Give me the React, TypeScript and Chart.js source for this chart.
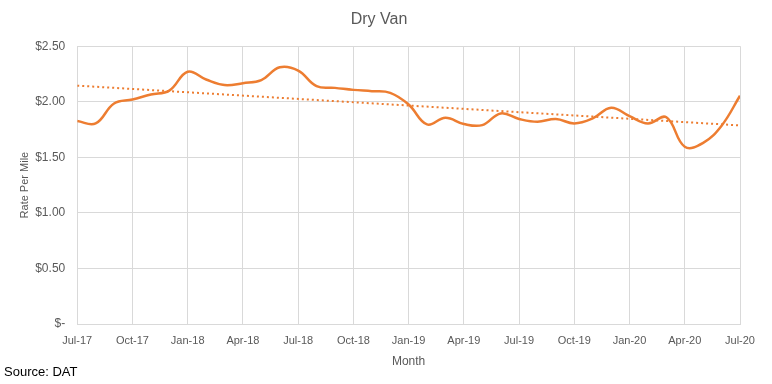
import React, { useEffect, useRef } from "react";
import { Chart, registerables } from "chart.js";

Chart.register(...registerables);

const months = [
  "Jul-17","Aug-17","Sep-17","Oct-17","Nov-17","Dec-17",
  "Jan-18","Feb-18","Mar-18","Apr-18","May-18","Jun-18",
  "Jul-18","Aug-18","Sep-18","Oct-18","Nov-18","Dec-18",
  "Jan-19","Feb-19","Mar-19","Apr-19","May-19","Jun-19",
  "Jul-19","Aug-19","Sep-19","Oct-19","Nov-19","Dec-19",
  "Jan-20","Feb-20","Mar-20","Apr-20","May-20","Jun-20","Jul-20",
];

const rates = [
  1.826, 1.805, 1.985, 2.02, 2.065, 2.10,
  2.27, 2.20, 2.15, 2.167, 2.195, 2.31,
  2.28, 2.14, 2.125, 2.107, 2.095, 2.08,
  1.975, 1.796, 1.856, 1.80, 1.79, 1.895,
  1.845, 1.82, 1.845, 1.805, 1.85, 1.946,
  1.87, 1.805, 1.86, 1.595, 1.63, 1.785, 2.054,
];

const yTicks = [0, 0.5, 1.0, 1.5, 2.0, 2.5];

const FONT = "'Liberation Sans', Arial, sans-serif";
const GREY = "#595959";
const ORANGE = "#ED7D31";

function trend(values: number[]) {
  const n = values.length;
  let sx = 0, sy = 0, sxy = 0, sxx = 0;
  values.forEach((v, i) => { sx += i; sy += v; sxy += i * v; sxx += i * i; });
  const b = (n * sxy - sx * sy) / (n * sxx - sx * sx);
  const a = (sy - b * sx) / n;
  return [{ x: 0, y: a }, { x: n - 1, y: a + b * (n - 1) }];
}

export default function App() {
  const ref = useRef<HTMLCanvasElement>(null);
  useEffect(() => {
    document.body.style.margin = "0";
    const chart = new Chart(ref.current!, {
      type: "line",
      data: {
        datasets: [
          {
            label: "Dry Van",
            data: rates.map((v, i) => ({ x: i, y: v })),
            borderColor: ORANGE,
            borderWidth: 2.5,
            pointRadius: 0,
            tension: 0.4,
            fill: false,
          },
          {
            label: "Trend",
            data: trend(rates),
            borderColor: ORANGE,
            borderWidth: 2,
            borderDash: [2, 3],
            pointRadius: 0,
            tension: 0,
            fill: false,
          },
        ],
      },
      options: {
        animation: false,
        responsive: false,
        layout: { padding: { left: 18, right: 32, top: 6, bottom: 20 } },
        plugins: {
          legend: { display: false },
          tooltip: { enabled: false },
          title: {
            display: true,
            text: "Dry Van",
            color: GREY,
            font: { family: FONT, size: 16, weight: "normal" },
            padding: { top: 4, bottom: 17 },
          },
        },
        scales: {
          x: {
            type: "linear",
            min: 0,
            max: months.length - 1,
            ticks: {
              stepSize: 3,
              autoSkip: false,
              maxRotation: 0,
              color: GREY,
              font: { family: FONT, size: 11 },
              padding: 10,
              callback: (v: any) => months[Number(v)] ?? "",
            },
            grid: { color: "#d9d9d9", drawTicks: false },
            border: { color: "#d9d9d9" },
            title: {
              display: true,
              text: "Month",
              color: GREY,
              font: { family: FONT, size: 12, lineHeight: 0.4 },
              padding: { top: 2, bottom: 0 },
            },
          },
          y: {
            min: 0,
            max: 2.5,
            afterBuildTicks: (axis: any) => {
              axis.ticks = yTicks.map((v) => ({ value: v }));
            },
            ticks: {
              color: GREY,
              font: { family: FONT, size: 12 },
              padding: 12,
              callback: (v: any) => (Number(v) === 0 ? "$-" : "$" + Number(v).toFixed(2)),
            },
            grid: { color: "#d9d9d9", drawTicks: false },
            border: { display: false },
            title: {
              display: true,
              text: "Rate Per Mile",
              color: GREY,
              font: { family: FONT, size: 11 },
              padding: { top: 0, bottom: -8 },
            },
          },
        },
      },
    });
    return () => chart.destroy();
  }, []);
  return (
    <div style={{ position: "relative", width: 772, height: 384 }}>
      <canvas ref={ref} width={772} height={384} />
      <div
        style={{
          position: "absolute",
          left: 4,
          top: 364,
          fontFamily: FONT,
          fontSize: 13,
          color: "#000",
        }}
      >
        Source: DAT
      </div>
    </div>
  );
}
